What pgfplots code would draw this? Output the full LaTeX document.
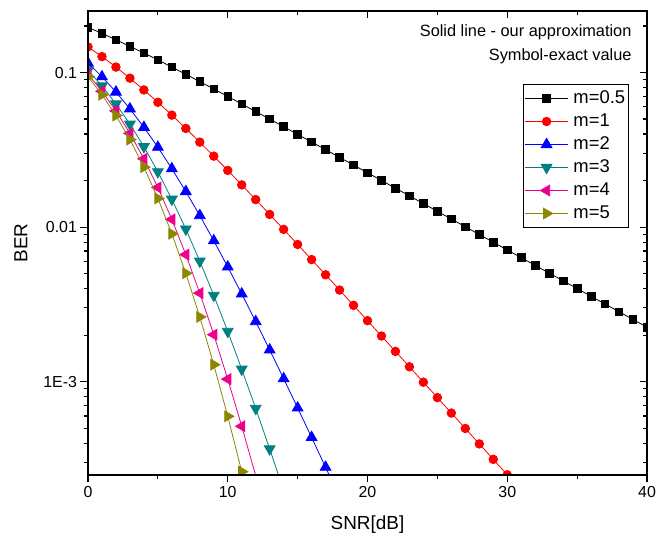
\documentclass[border=0pt]{standalone}
\usepackage{pgfplots}
\pgfplotsset{compat=1.18}
\usepackage{fontspec}
\setmainfont{Liberation Sans}

\pgfplotsset{ber/.style={at={(0,0)},anchor=south west,scale only axis,
  width=559bp,height=464bp,
  xmin=0,xmax=40,ymin=2.49e-4,ymax=0.25,
  xtick={0,10,20,30,40},minor xtick={5,15,25,35},
  ytick={0.001,0.01,0.1},
  minor ytick={3e-4,4e-4,5e-4,6e-4,7e-4,8e-4,9e-4,
    2e-3,3e-3,4e-3,5e-3,6e-3,7e-3,8e-3,9e-3,
    2e-2,3e-2,4e-2,5e-2,6e-2,7e-2,8e-2,9e-2,0.2},
  major tick length=7.5bp,minor tick length=4bp,
  axis line style={line width=1.3bp},
  every tick/.append style={line width=1.1bp,black}}}

\begin{document}
\begin{tikzpicture}
\useasboundingbox (-88bp,-58bp) rectangle (578bp,475bp);
\begin{semilogyaxis}[ber,tick align=outside,tick pos=left,
  xticklabels={0,10,20,30,40},yticklabels={1E-3,0.01,0.1},
  tick label style={font=\fontsize{16}{19}\selectfont},
  xlabel={SNR[dB]},ylabel={BER},
  label style={font=\fontsize{19}{23}\selectfont},
  xlabel style={at={(axis description cs:0.5,-0.1185)},anchor=base},
  ylabel style={at={(axis description cs:-0.12,0.5)},anchor=center},
  clip marker paths=true,
  legend style={at={(0.968,0.843)},anchor=north east,draw=black,line width=0.8bp,
    font=\fontsize{18.5}{22}\selectfont,cells={anchor=west},
    inner xsep=1.5bp,inner ysep=3.5bp,row sep=1.5bp,
    /tikz/every odd column/.append style={column sep=3bp},
    nodes={inner sep=2bp,text height=13.5bp,text depth=4bp}},
  legend image code/.code={\draw[mark repeat=2,mark phase=2]
    plot coordinates {(0bp,0bp) (21.5bp,0bp) (43bp,0bp)};}]

% m=0.5
\addplot[black,line width=0.8bp,mark=square*,mark size=3.8bp] coordinates {
(0,0.1959) (1,0.1790) (2,0.1629) (3,0.1477) (4,0.1336) (5,0.1207) (6,0.1084)
(7,0.09738) (8,0.08735) (9,0.07825) (10,0.07003) (11,0.06262) (12,0.05596)
(13,0.04997) (14,0.04462) (15,0.03982) (16,0.03553) (17,0.03169) (18,0.02826)
(19,0.02520) (20,0.02247) (21,0.02003) (22,0.01786) (23,0.01592) (24,0.01419)
(25,0.01265) (26,0.01128) (27,0.01005) (28,0.008958) (29,0.007984) (30,0.007117)
(31,0.006343) (32,0.005654) (33,0.005039) (34,0.004491) (35,0.004003)
(36,0.003568) (37,0.003179) (38,0.002834) (39,0.002525) (40,0.002251)};
\addlegendentry{m=0.5}
% m=1
\addplot[red,line width=0.8bp,mark=*,mark size=4.3bp] coordinates {
(0,0.14645) (1,0.12673) (2,0.10849) (3,0.09191) (4,0.07714) (5,0.06418)
(6,0.05300) (7,0.04348) (8,0.03546) (9,0.02878) (10,0.02327) (11,0.018749)
(12,0.015065) (13,0.012077) (14,0.009665) (15,0.007723) (16,0.006164)
(17,0.004915) (18,0.003916) (19,0.003118) (20,0.0024814) (21,0.0019741)
(22,0.0015700) (23,0.0012483) (24,0.00099229) (25,0.00078870) (26,0.00062679)
(27,0.00049807) (28,0.00039576) (29,0.00031443) (30,0.00024981) (31,0.00019848)};
\addlegendentry{m=1}
% m=2
\addplot[blue,line width=0.8bp,mark=triangle*,mark size=6.2bp] coordinates {
(0,0.11510) (1,0.09389) (2,0.07481) (3,0.05822) (4,0.04424) (5,0.03286)
(6,0.02387) (7,0.01699) (8,0.011874) (9,0.008161) (10,0.005528) (11,0.0036983)
(12,0.0024479) (13,0.001606) (14,0.0010459) (15,0.000677) (16,0.0004361)
(17,0.0002797) (18,0.0001788)};
\addlegendentry{m=2}
% m=3
\addplot[teal,line width=0.8bp,mark=triangle*,mark size=6.2bp,mark options={rotate=180}] coordinates {
(0,0.10352) (1,0.081835) (2,0.06265) (3,0.046358) (4,0.033111) (5,0.022801)
(6,0.015144) (7,0.009708) (8,0.006020) (9,0.003617) (10,0.0021139)
(11,0.0012049) (12,0.00067159) (13,0.00036746) (14,0.00019783)};
\addlegendentry{m=3}
% m=4
\addplot[magenta,line width=0.8bp,mark=triangle*,mark size=6.2bp,mark options={rotate=90}] coordinates {
(0,0.097508) (1,0.075614) (2,0.056441) (3,0.040405) (4,0.027653) (5,0.018048)
(6,0.011217) (7,0.0066375) (8,0.0037421) (9,0.0020144) (10,0.0010387)
(11,0.00051489) (12,0.00024631) (13,0.00011427)};
\addlegendentry{m=4}
% m=5
\addplot[olive,line width=0.8bp,mark=triangle*,mark size=6.2bp,mark options={rotate=-90}] coordinates {
(0,0.093835) (1,0.071826) (2,0.052680) (3,0.036838) (4,0.024444) (5,0.015330)
(6,0.009053) (7,0.0050277) (8,0.002624) (9,0.0012886) (10,0.00059674)
(11,0.00026175) (12,0.00010917)};
\addlegendentry{m=5}

\node[anchor=base east,font=\fontsize{16.4}{19}\selectfont] at (rel axis cs:0.9785,0.946) {Solid line - our approximation};
\node[anchor=base east,font=\fontsize{16.4}{19}\selectfont] at (rel axis cs:0.9785,0.894) {Symbol-exact value};
\end{semilogyaxis}
% mirrored ticks on top and right, pointing inwards
\begin{semilogyaxis}[ber,tick align=inside,tick pos=right,xticklabels={},yticklabels={}]
\addplot[draw=none] coordinates {(0,0.01) (40,0.01)};
\end{semilogyaxis}
\end{tikzpicture}
\end{document}
